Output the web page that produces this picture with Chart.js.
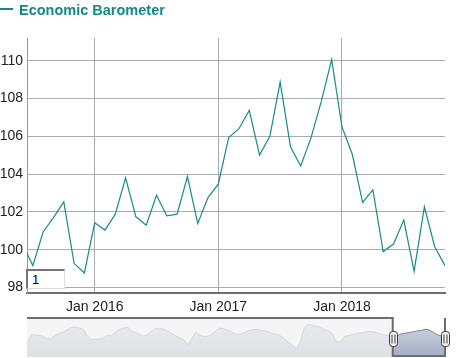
<!DOCTYPE html>
<html>
<head>
<meta charset="utf-8">
<script src="https://cdn.jsdelivr.net/npm/chart.js@4/dist/chart.umd.min.js"></script>
<style>
  body { margin: 0; background: #fff; width: 465px; height: 358px; overflow: hidden; position: relative; font-family: "Liberation Sans", Arial, sans-serif; }
  #legend { position: absolute; left: 0; top: 0; color: #138888; font-weight: bold; font-size: 14.5px; }
  #legend .dash { position: absolute; left: 0; top: 8px; width: 13px; height: 2px; background: #138888; }
  #legend .txt { position: absolute; left: 19px; top: 1.5px; line-height: 16px; white-space: nowrap; }
  #main { position: absolute; left: 0; top: 0; }
  #nav { position: absolute; left: 0; top: 310px; }
  #range { position: absolute; left: 26px; top: 269px; width: 32px; height: 17px; padding-left: 4px; background: #fff;
           border-top: 2px solid #767676; border-left: 2px solid #767676; border-right: 1px solid #ddd; border-bottom: 1px solid #ddd;
           font-size: 13px; line-height: 17px; color: #000; }
</style>
</head>
<body>
<canvas id="main" width="465" height="318"></canvas>
<canvas id="nav" width="465" height="48"></canvas>
<div id="legend"><span class="dash"></span><span class="txt">Economic Barometer</span></div>
<div id="range">1</div>
<script>
// monthly readings shown in the main panel
const months = [
  "2015-06", "2015-07", "2015-08", "2015-09", "2015-10", "2015-11", "2015-12",
  "2016-01", "2016-02", "2016-03", "2016-04", "2016-05", "2016-06",
  "2016-07", "2016-08", "2016-09", "2016-10", "2016-11", "2016-12",
  "2017-01", "2017-02", "2017-03", "2017-04", "2017-05", "2017-06",
  "2017-07", "2017-08", "2017-09", "2017-10", "2017-11", "2017-12",
  "2018-01", "2018-02", "2018-03", "2018-04", "2018-05", "2018-06",
  "2018-07", "2018-08", "2018-09", "2018-10", "2018-11"
];
const barometer = [
  100.3, 99.16, 100.95, 101.7, 102.53, 99.28, 98.77,
  101.42, 101.04, 101.88, 103.8, 101.74, 101.3,
  102.88, 101.79, 101.88, 103.87, 101.39, 102.76,
  103.47, 105.93, 106.4, 107.37, 105.01, 106.0,
  108.87, 105.45, 104.43, 105.93, 107.86, 110.06,
  106.5, 105.05, 102.5, 103.17, 99.9, 100.3,
  101.57, 98.86, 102.27, 100.16, 99.16
];
const yTicks = [98, 100, 102, 104, 106, 108, 110];
const xTickMonths = ["2016-01", "2017-01", "2018-01"];
const xTickLabels = ["Jan 2016", "Jan 2017", "Jan 2018"];

// long history shown in the navigator strip (relative level)
const navValues = [
  14, 22, 22.3, 21.5, 20.5, 18.5, 18, 21.7, 23.5, 25.2,
  27, 29.3, 30, 29, 27.7, 21, 17, 18, 18, 19,
  21.7, 21, 25, 27.5, 28.7, 30, 26.2, 24.3, 22.7, 21,
  22, 26, 28.2, 28.7, 28, 26, 23.5, 21.3, 19, 17.3,
  12, 18.5, 25, 21.5, 20.5, 20.7, 22.7, 26.3, 29, 28.3,
  27, 24.8, 22.8, 23, 24.3, 26, 27.2, 27.5, 26.8, 26.2,
  25.6, 23.6, 22.6, 21.2, 18.7, 14.8, 12.3, 8.3, 15, 29,
  33, 31.6, 31, 29.4, 27.6, 26, 23.2, 15, 15.5, 20.7,
  21.5, 22.5, 23.5, 24.2, 24.7, 25.3, 25.5, 24.3, 23, 22,
  21.3, 20.3, 21, 23, 23.8, 24.3, 25.2, 26, 26.5, 27.7,
  27.2, 25, 22.5, 21, 20
];
const navFrom = 91;
const navTo = navValues.length - 1;

const TEAL = "#1a8b8b";
Chart.defaults.font.family = '"Liberation Sans", Arial, sans-serif';

// months since Jan 2016
const monthIndex = (s) => {
  const [y, m] = s.split("-").map(Number);
  return (y - 2016) * 12 + (m - 1);
};

new Chart(document.getElementById("main"), {
  type: "line",
  data: {
    datasets: [{
      label: "Economic Barometer",
      data: months.map((m, i) => ({ x: monthIndex(m), y: barometer[i] })),
      borderColor: TEAL,
      borderWidth: 1.2,
      pointRadius: 0,
      tension: 0,
      fill: false,
    }],
  },
  options: {
    responsive: false,
    animation: false,
    layout: { padding: { top: 38, right: 20, left: 0, bottom: 0 } },
    plugins: { legend: { display: false }, tooltip: { enabled: false } },
    scales: {
      x: {
        type: "linear",
        min: -6.57,
        max: 34,
        afterBuildTicks: (s) => { s.ticks = xTickMonths.map((m) => ({ value: monthIndex(m) })); },
        afterFit: (s) => { s.height = 25; },
        ticks: {
          callback: (v, i) => xTickLabels[i],
          color: "#222",
          font: { size: 14 },
          padding: 6,
          maxRotation: 0,
          autoSkip: false,
        },
        grid: { color: "#acacac", drawTicks: false },
        border: { color: "#6e6e6e", width: 2 },
      },
      y: {
        min: 97.71,
        max: 111.2,
        afterBuildTicks: (s) => { s.ticks = yTicks.map((v) => ({ value: v })); },
        afterFit: (s) => { s.width = 27; },
        ticks: { color: "#222", font: { size: 14 }, padding: 4 },
        grid: { color: "#acacac", drawTicks: false },
        border: { color: "#999", width: 1 },
      },
    },
  },
});

// navigator: mask, outline and handles
const navigatorPlugin = {
  id: "navigatorMask",
  afterDatasetsDraw(chart) {
    const { ctx, chartArea: a, scales: { x } } = chart;
    const from = x.getPixelForValue(navFrom);
    const to = x.getPixelForValue(navTo);
    ctx.save();
    ctx.fillStyle = "rgba(242,242,242,0.75)";
    ctx.fillRect(a.left, a.top, from - a.left, a.bottom - a.top);

    ctx.strokeStyle = "#6e6e6e";
    ctx.lineWidth = 2;
    ctx.beginPath();
    ctx.moveTo(a.left, a.top);
    ctx.lineTo(from, a.top);
    ctx.lineTo(from, a.bottom - 1);
    ctx.lineTo(to, a.bottom - 1);
    ctx.lineTo(to, a.top);
    ctx.stroke();

    const mid = (a.top + a.bottom) / 2 + 1.5;
    [from, to].forEach((px) => {
      px = Math.round(px) + 0.5;
      ctx.lineWidth = 1;
      ctx.fillStyle = "#f4f4f4";
      ctx.strokeStyle = "#3a3a3a";
      ctx.beginPath();
      ctx.roundRect(px - 4, mid - 7.5, 8, 15, 3);
      ctx.fill();
      ctx.stroke();
      ctx.beginPath();
      ctx.moveTo(px - 1.5, mid - 4.5);
      ctx.lineTo(px - 1.5, mid + 4.5);
      ctx.moveTo(px + 1.5, mid - 4.5);
      ctx.lineTo(px + 1.5, mid + 4.5);
      ctx.stroke();
    });
    ctx.restore();
  },
};

new Chart(document.getElementById("nav"), {
  type: "line",
  data: {
    datasets: [{
      data: navValues.map((v, i) => ({ x: i, y: v })),
      borderColor: "#7685a8",
      borderWidth: 1,
      pointRadius: 0,
      tension: 0,
      fill: "start",
      backgroundColor: (c) => {
        const area = c.chart.chartArea;
        if (!area) return "#c0c6d4";
        const g = c.chart.ctx.createLinearGradient(0, area.top, 0, area.bottom);
        g.addColorStop(0, "#d6dae4");
        g.addColorStop(1, "#a4adc3");
        return g;
      },
    }],
  },
  options: {
    responsive: false,
    animation: false,
    layout: { padding: { left: 27, right: 20, top: 8, bottom: 1 } },
    plugins: { legend: { display: false }, tooltip: { enabled: false } },
    scales: {
      x: { type: "linear", display: false, min: 0, max: navValues.length - 1 },
      y: { display: false, min: 0, max: 39 },
    },
  },
  plugins: [navigatorPlugin],
});
</script>
</body>
</html>
